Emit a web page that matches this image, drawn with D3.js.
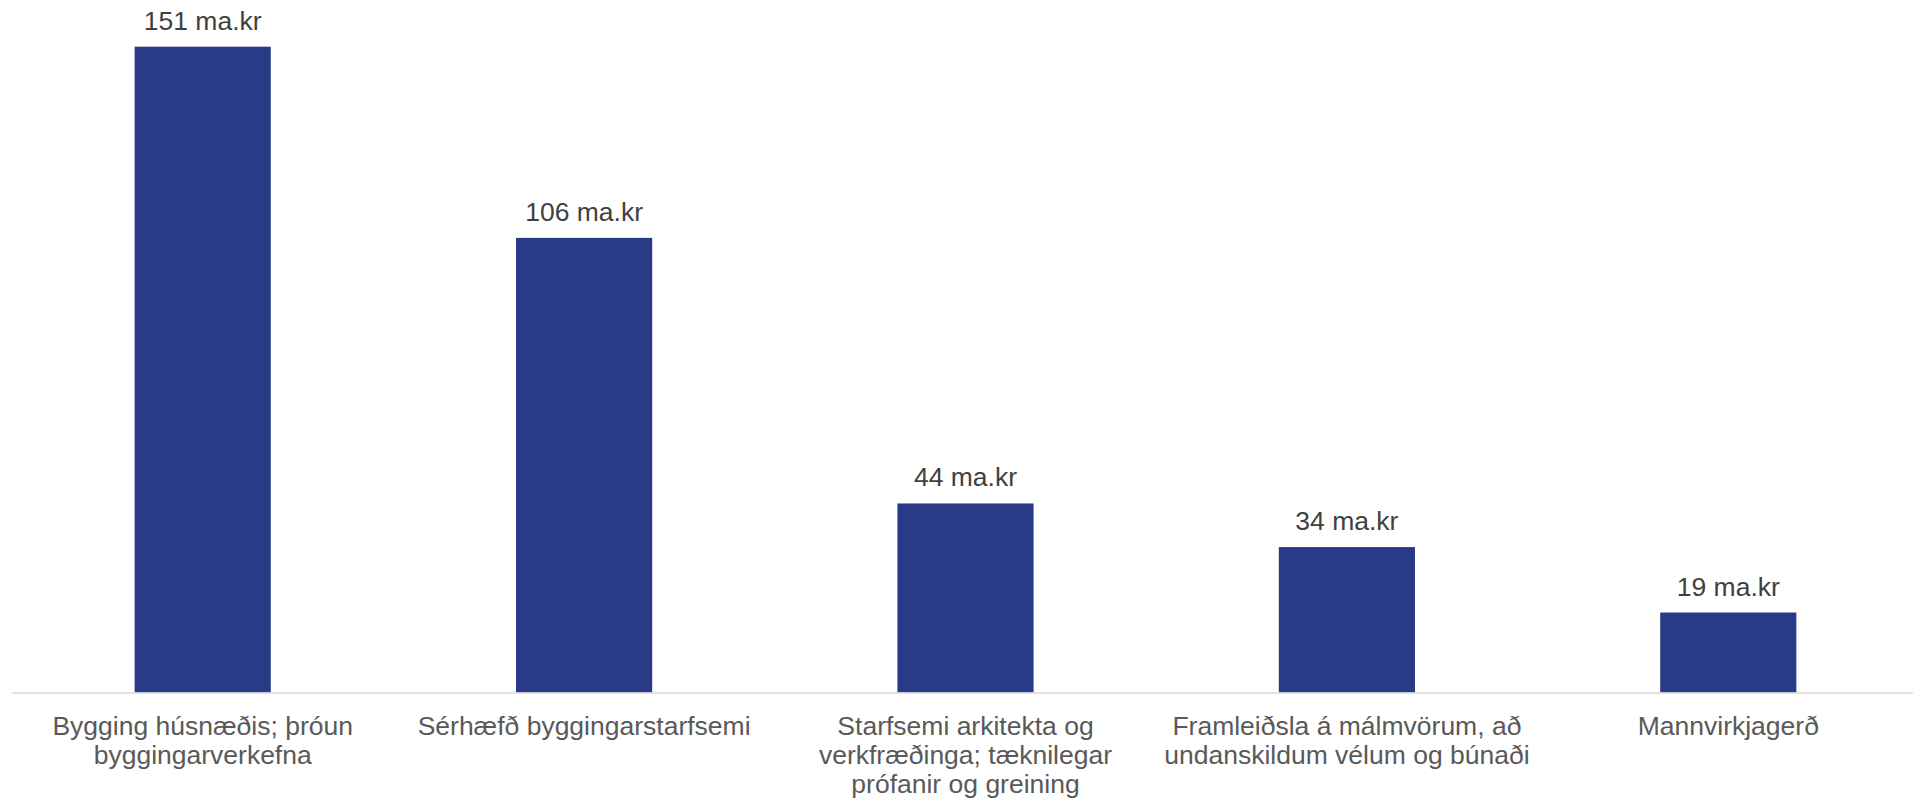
<!DOCTYPE html>
<html lang="en">
	<head>
		<meta charset="utf-8">
		<title>chart</title>
		<script type="text/javascript" src="https://cdn.jsdelivr.net/npm/d3@7"></script>
		<style type="text/css">
			body { margin: 0; background: #fff; }
			text { font-family: Arial, "Liberation Sans", sans-serif; }
		</style>
	</head>
	<body>
		<script type="text/javascript">

			var categories = [
				"Bygging húsnæðis; þróun byggingarverkefna",
				"Sérhæfð byggingarstarfsemi",
				"Starfsemi arkitekta og verkfræðinga; tæknilegar prófanir og greining",
				"Framleiðsla á málmvörum, að undanskildum vélum og búnaði",
				"Mannvirkjagerð"
			]
			var values = [151, 106.3, 44.2, 34, 18.7]
			var unit = " ma.kr"

			var w = 1913, h = 800
			var base = 692.5

			var svg = d3.select("body").append("svg").attr("width", w).attr("height", h)

			var p = 0.643
			var xscale = d3.scaleBand()
				.domain(d3.range(categories.length))
				.range([12, 1919])
				.paddingInner(p)
				.paddingOuter(p / 2)

			var yscale = d3.scaleLinear()
				.domain([0, 151])
				.range([base, 46.7])

			svg.selectAll("rect")
			.data(values)
			.enter()
			.append("rect")
			.attr("x", function(d, i) { return xscale(i) })
			.attr("y", function(d) { return yscale(d) })
			.attr("width", xscale.bandwidth())
			.attr("height", function(d) { return base - yscale(d) })
			.attr("fill", "#293b87")

			// axis line
			svg.append("line")
			.attr("x1", 12).attr("x2", w)
			.attr("y1", base + 0.5).attr("y2", base + 0.5)
			.attr("stroke", "#d9d9d9")
			.attr("stroke-width", 1.5)

			svg.selectAll(".val")
			.data(values)
			.enter()
			.append("text")
			.attr("class", "val")
			.attr("x", function(d, i) { return xscale(i) + xscale.bandwidth() / 2 })
			.attr("y", function(d) { return yscale(d) - 17 })
			.text(function(d) { return Math.round(d) + unit })
			.attr("fill", "#404040")
			.attr("text-anchor", "middle")
			.attr("font-size", "26.5px")

			// category labels, wrapped to fit
			var maxW = 370
			var lineH = 29.3
			var labels = svg.selectAll(".cat")
			.data(categories)
			.enter()
			.append("text")
			.attr("class", "cat")
			.attr("fill", "#595959")
			.attr("text-anchor", "middle")
			.attr("font-size", "26.5px")

			labels.each(function(d, i) {
				var t = d3.select(this)
				var cx = xscale(i) + xscale.bandwidth() / 2
				var words = d.split(" ")
				var lines = []
				var line = []
				var tmp = t.append("tspan")
				for (var k = 0; k < words.length; k++) {
					line.push(words[k])
					tmp.text(line.join(" "))
					if (tmp.node().getComputedTextLength() > maxW && line.length > 1) {
						line.pop()
						lines.push(line.join(" "))
						line = [words[k]]
					}
				}
				lines.push(line.join(" "))
				tmp.remove()
				for (var j = 0; j < lines.length; j++) {
					t.append("tspan")
					.attr("x", cx)
					.attr("y", base + 42 + j * lineH)
					.text(lines[j])
				}
			})

		</script>
	</body>
</html>
